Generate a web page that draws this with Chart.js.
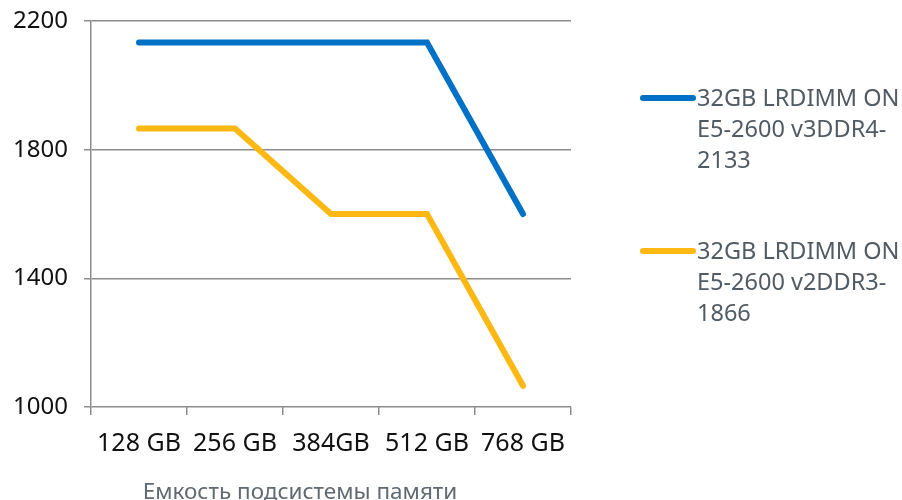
<!DOCTYPE html>
<html>
<head>
<meta charset="utf-8">
<script src="https://cdn.jsdelivr.net/npm/chart.js@4/dist/chart.umd.min.js"></script>
<style>
  html, body { margin: 0; padding: 0; background: #fff; }
  #wrap { position: relative; width: 902px; height: 500px; overflow: hidden; }
  #legend { position: absolute; left: 640px; top: 82px; width: 262px; font-family: "Noto Sans", "Open Sans", sans-serif; }
  .item { position: absolute; left: 0; width: 262px; }
  .swatch { position: absolute; left: 0; width: 56px; height: 6px; border-radius: 3px; }
  .text { position: absolute; left: 57px; width: 212px; font-size: 23.5px; line-height: 31px; color: #505b64; }
</style>
</head>
<body>
<div id="wrap">
  <canvas id="c" width="902" height="500"></canvas>
  <div id="legend"></div>
</div>
<script>
// Memory capacity categories and bandwidth series
const categories = ["128 GB", "256 GB", "384GB", "512 GB", "768 GB"];
const seriesNames = [
  "32GB LRDIMM ON E5-2600 v3DDR4-2133",
  "32GB LRDIMM ON E5-2600 v2DDR3-1866"
];
const ddr4Values = [2133, 2133, 2133, 2133, 1600];
const ddr3Values = [1866, 1866, 1600, 1600, 1066];
const seriesColors = ["#0071c5", "#fdb813"];
const yTicks = [1000, 1400, 1800, 2200];
const axisTitle = "Емкость подсистемы памяти";

const font = '"Noto Sans", "Open Sans", sans-serif';
const gridColor = "#8c8c8c";

const datasets = [ddr4Values, ddr3Values].map((vals, i) => ({
  label: seriesNames[i],
  data: vals,
  borderColor: seriesColors[i],
  backgroundColor: seriesColors[i],
  borderWidth: 6,
  borderCapStyle: "round",
  borderJoinStyle: "miter",
  pointRadius: 0,
  pointHoverRadius: 0,
  tension: 0,
  fill: false
}));

// Category-axis caption, centred under the labels block
const axisCaption = {
  id: "axisCaption",
  afterDraw(chart) {
    const ctx = chart.ctx;
    ctx.save();
    ctx.font = `22.5px ${font}`;
    ctx.fillStyle = "#5f6a72";
    ctx.textAlign = "center";
    ctx.textBaseline = "middle";
    ctx.fillText(axisTitle, 300, 493);
    ctx.restore();
  }
};

new Chart(document.getElementById("c"), {
  type: "line",
  data: { labels: categories, datasets },
  plugins: [axisCaption],
  options: {
    responsive: false,
    animation: false,
    events: [],
    layout: { padding: { top: 21, right: 331, left: 0, bottom: 0 } },
    plugins: { legend: { display: false }, tooltip: { enabled: false } },
    scales: {
      x: {
        offset: true,
        grid: { offset: true, drawOnChartArea: false, color: gridColor, tickLength: 8, lineWidth: 1.5 },
        border: { display: false },
        ticks: { color: "#111", font: { family: font, size: 25 }, padding: 14, maxRotation: 0, autoSkip: false },
        afterFit: s => { s.height = 93; }
      },
      y: {
        min: 1000,
        max: 2200,
        afterBuildTicks: s => { s.ticks = yTicks.map(v => ({ value: v })); },
        grid: { color: gridColor, tickLength: 7, lineWidth: 1.5 },
        border: { display: true, color: gridColor, width: 1.5 },
        ticks: { color: "#111", font: { family: font, size: 24 }, padding: 16, callback: v => String(v) },
        afterFit: s => { s.width = 91; s.paddingTop = 0; }
      }
    }
  }
});

// Wrapped legend built from the series definitions
const legend = document.getElementById("legend");
const offsets = [0, 153];
seriesNames.forEach((name, i) => {
  const item = document.createElement("div");
  item.className = "item";
  item.style.top = offsets[i] + "px";
  const sw = document.createElement("div");
  sw.className = "swatch";
  sw.style.background = seriesColors[i];
  sw.style.top = "13px";
  const tx = document.createElement("div");
  tx.className = "text";
  tx.textContent = name;
  item.appendChild(sw);
  item.appendChild(tx);
  legend.appendChild(item);
});
</script>
</body>
</html>
